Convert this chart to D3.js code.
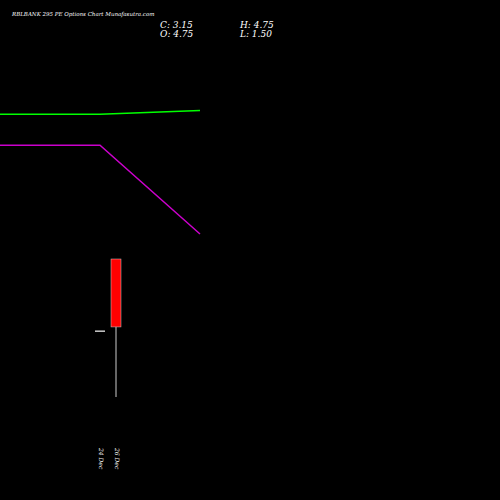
<!DOCTYPE html>
<html><head><script src="https://d3js.org/d3.v7.min.js"></script>
<style>body{margin:0;background:#000}</style></head>
<body><svg id="c" width="500" height="500"></svg>
<script>
var dates = ["24 Dec", "26 Dec"];
var opens = [3.05, 4.75];
var highs = [3.05, 4.75];
var lows = [3.05, 1.50];
var closes = [3.05, 3.15];
var lineIdx = [0, 1, 2];
var greenLine = [8.16, 8.16, 8.25];
var purpleLine = [7.43, 7.43, 5.34];

var svg = d3.select("#c");
svg.append("rect").attr("width", 500).attr("height", 500).attr("fill", "#000");
var y = d3.scaleLinear().domain([1.5, 4.75]).range([397, 259]);
var x = d3.scalePoint().domain(dates).range([100, 116]);
var xl = d3.scaleLinear().domain([0, 2]).range([0, 200]);

var ln = d3.line().x(function(d, i) { return xl(lineIdx[i]); }).y(function(d) { return y(d); });
svg.append("path").attr("d", ln(greenLine)).attr("fill", "none").attr("stroke", "#00ff00").attr("stroke-width", 1.5);
svg.append("path").attr("d", ln(purpleLine)).attr("fill", "none").attr("stroke", "#cc00cc").attr("stroke-width", 1.5);

dates.forEach(function(d, i) {
  var cx = x(d);
  svg.append("line").attr("x1", cx).attr("x2", cx).attr("y1", y(highs[i])).attr("y2", y(lows[i])).attr("stroke", "#ccc").attr("stroke-width", 1);
  var top = y(Math.max(opens[i], closes[i])), bot = y(Math.min(opens[i], closes[i]));
  if (bot - top < 1) {
    svg.append("line").attr("x1", cx - 5).attr("x2", cx + 5).attr("y1", top).attr("y2", top).attr("stroke", "#ccc").attr("stroke-width", 1.5);
  } else {
    svg.append("rect").attr("x", cx - 5).attr("y", top).attr("width", 10).attr("height", bot - top)
      .attr("fill", closes[i] < opens[i] ? "#ff0000" : "#00ff00").attr("stroke", "#ccc").attr("stroke-width", 0.5);
  }
  svg.append("text").attr("transform", "translate(" + (cx - 1) + ",448) rotate(90)")
    .attr("fill", "#fff").attr("font-family", "DejaVu Serif").attr("font-style", "italic").attr("font-size", 6).text(d);
});

svg.append("text").attr("x", 12).attr("y", 16).attr("fill", "#fff").attr("font-family", "DejaVu Serif")
  .attr("font-style", "italic").attr("font-size", 5.5).text("RBLBANK 295 PE Options  Chart Munafasutra.com");
var f = {fill: "#fff", "font-family": "DejaVu Serif", "font-style": "italic", "font-size": 9};
[["C: 3.15", 160, 28], ["O: 4.75", 160, 37], ["H: 4.75", 240, 28], ["L: 1.50", 240, 37]].forEach(function(t) {
  var e = svg.append("text").attr("x", t[1]).attr("y", t[2]).text(t[0]);
  for (var k in f) e.attr(k, f[k]);
});
</script></body></html>
